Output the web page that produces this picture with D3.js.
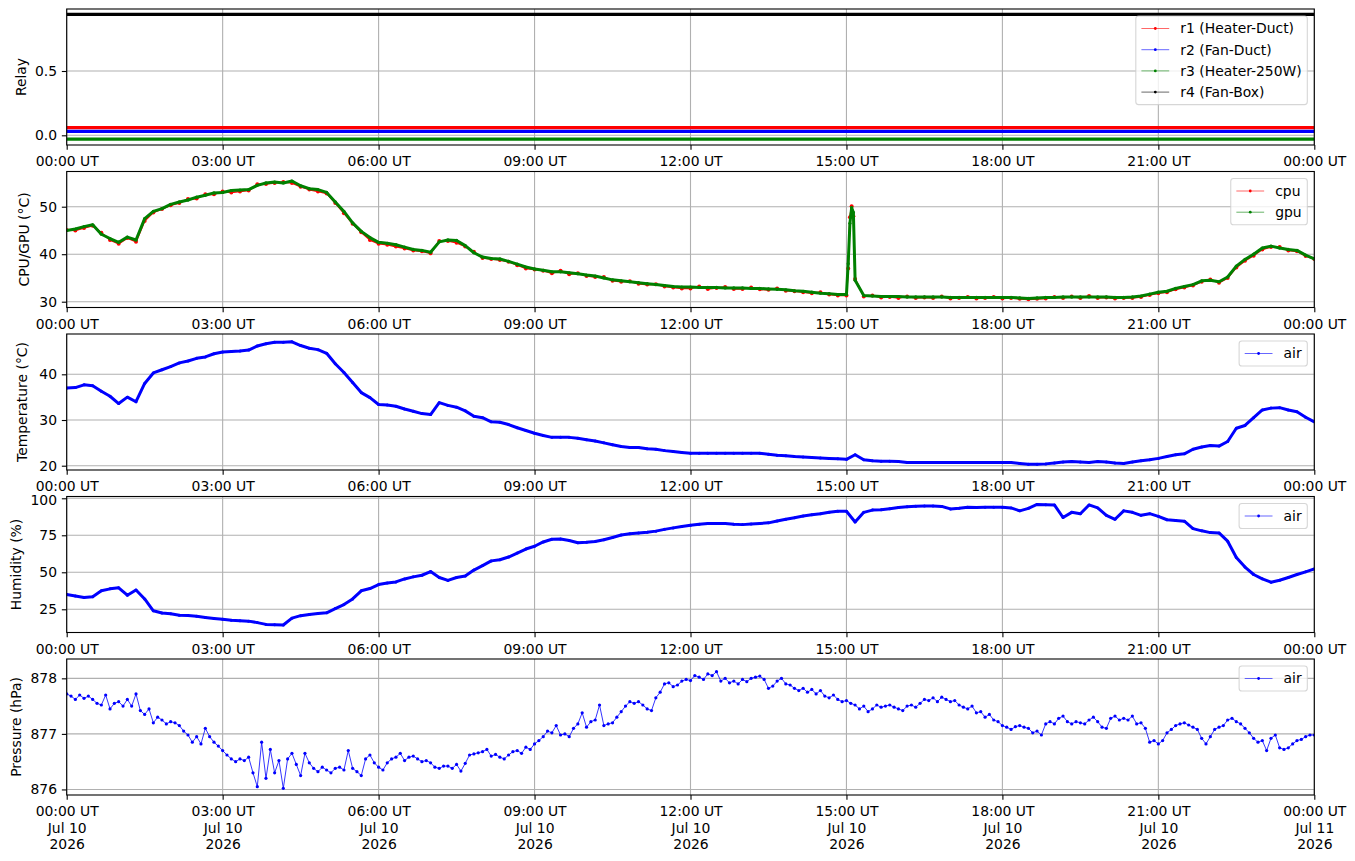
<!DOCTYPE html>
<html lang="en">
<head>
<meta charset="UTF-8">
<title>Relay / CPU / air sensors, Jul 10 2026</title>
<script src="https://d3js.org/d3.v7.min.js"></script>
<style>
  body { margin: 0; background: #fff; }
  svg text { font-family: "DejaVu Sans", sans-serif; font-size: 13.9px; fill: #000; }
</style>
</head>
<body>
<div id="chart"></div>
<script>
// ---- data ----
const relayNames = ["r1 (Heater-Duct)", "r2 (Fan-Duct)", "r3 (Heater-250W)", "r4 (Fan-Box)"];
const relayLevels = [0.06, 0.03, -0.03, 0.94];
const relayColors = ["red", "blue", "green", "black"];

// 10-minute samples, 00:00 .. 24:00
const cpuTemp = [
  45.1, 45.0, 45.5, 46.0, 44.5, 43.0, 42.2, 43.4, 42.6, 47.0, 48.8, 49.5,
  50.3, 50.8, 51.6, 51.7, 52.6, 52.6, 53.2, 53.0, 53.2, 53.4, 54.7, 54.8,
  55.0, 55.2, 55.0, 54.2, 53.6, 53.2, 52.8, 50.8, 48.6, 46.4, 44.6, 43.0,
  42.2, 42.0, 41.6, 41.2, 40.8, 40.6, 40.2, 42.8, 42.8, 42.4, 41.6, 40.5,
  39.2, 39.0, 38.8, 38.4, 37.7, 37.0, 36.8, 36.5, 36.0, 36.5, 35.8, 36.0,
  35.4, 35.2, 35.2, 34.4, 34.2, 34.3, 33.8, 33.6, 33.7, 33.2, 33.0, 32.8,
  32.8, 33.2, 32.7, 32.9, 33.1, 32.7, 32.7, 33.0, 32.6, 32.5, 32.8, 32.3,
  32.2, 32.0, 31.8, 32.0, 31.5, 31.3, 31.3, 34.8, 31.1, 31.3, 30.9, 31.0,
  30.8, 31.1, 30.8, 30.9, 30.8, 31.1, 30.7, 30.8, 31.0, 30.7, 30.8, 31.0,
  30.7, 30.8, 30.6, 30.5, 30.6, 30.7, 31.0, 30.8, 31.1, 30.8, 31.2, 30.8,
  30.9, 30.7, 30.8, 30.8, 31.0, 31.4, 31.8, 32.0, 32.6, 33.0, 33.4, 34.2,
  34.7, 34.0, 35.0, 37.2, 38.6, 39.7, 41.0, 41.5, 41.5, 40.8, 40.6, 39.6,
  39.0
];
const gpuTemp = [
  45.0, 45.3, 45.8, 46.2, 44.2, 43.3, 42.5, 43.6, 43.0, 47.5, 49.0, 49.6,
  50.5, 51.0, 51.4, 52.0, 52.4, 52.9, 53.0, 53.4, 53.5, 53.6, 54.5, 55.0,
  55.2, 55.0, 55.4, 54.4, 53.8, 53.6, 53.0, 51.0, 49.0, 46.6, 44.8, 43.5,
  42.5, 42.3, 42.0, 41.5, 41.0, 40.8, 40.4, 42.6, 43.0, 42.9, 41.8, 40.3,
  39.4, 39.1, 39.0, 38.5, 37.9, 37.3, 36.9, 36.6, 36.3, 36.3, 36.1, 35.9,
  35.6, 35.4, 35.0, 34.6, 34.4, 34.2, 34.0, 33.8, 33.6, 33.4, 33.2, 33.1,
  33.1, 33.0, 33.0, 33.0, 32.9, 32.9, 32.9, 32.8, 32.8, 32.7, 32.6, 32.5,
  32.3, 32.2, 32.0, 31.8, 31.7, 31.5, 31.5, 34.5, 31.3, 31.2, 31.1, 31.1,
  31.1, 31.0, 31.0, 31.0, 31.0, 31.0, 30.9, 30.9, 30.9, 30.9, 30.9, 30.9,
  30.9, 30.9, 30.8, 30.7, 30.8, 30.9, 30.9, 31.0, 31.0, 31.0, 31.0, 31.0,
  31.0, 30.9, 30.9, 31.0, 31.2, 31.6, 32.0, 32.2, 32.8, 33.2, 33.6, 34.4,
  34.5, 34.2, 35.2, 37.5, 38.9, 40.0, 41.3, 41.7, 41.3, 41.0, 40.8, 39.8,
  39.0
];
// extra samples through the short spike after 15:00 (minutes after midnight)
const spikeMinutes = [902, 904, 906, 908];
const cpuSpike = [37.0, 47.8, 50.1, 48.0];
const gpuSpike = [38.0, 46.5, 49.8, 48.8];

const airTemp = [
  37.0, 37.1, 37.7, 37.5, 36.3, 35.2, 33.6, 35.0, 34.0, 38.0, 40.3, 41.0,
  41.7, 42.5, 42.9, 43.5, 43.8, 44.5, 44.9, 45.0, 45.1, 45.3, 46.2, 46.7,
  47.0, 47.0, 47.1, 46.3, 45.7, 45.4, 44.6, 42.3, 40.4, 38.2, 36.0, 34.9,
  33.4, 33.3, 33.0, 32.4, 31.9, 31.4, 31.2, 33.8, 33.2, 32.8, 32.0, 30.8,
  30.5, 29.6, 29.5, 29.0, 28.3, 27.7, 27.1, 26.6, 26.2, 26.2, 26.2, 26.0,
  25.7, 25.4, 25.0, 24.6, 24.2, 24.0, 24.0, 23.7, 23.6, 23.3, 23.1, 22.9,
  22.7, 22.7, 22.7, 22.7, 22.7, 22.7, 22.7, 22.7, 22.7, 22.5, 22.3, 22.2,
  22.0, 21.9, 21.8, 21.7, 21.6, 21.5, 21.4, 22.4, 21.3, 21.1, 21.0, 21.0,
  20.9, 20.7, 20.7, 20.7, 20.7, 20.7, 20.7, 20.7, 20.7, 20.7, 20.7, 20.7,
  20.7, 20.7, 20.5, 20.3, 20.3, 20.4, 20.6, 20.8, 20.9, 20.8, 20.7, 20.9,
  20.8, 20.6, 20.5, 20.8, 21.1, 21.3, 21.6, 22.0, 22.4, 22.6, 23.6, 24.1,
  24.4, 24.3, 25.3, 28.2, 28.8, 30.5, 32.2, 32.6, 32.7, 32.2, 31.8, 30.6,
  29.6
];
const airHumidity = [
  35.0, 34.0, 33.0, 33.5, 37.5, 38.8, 39.5, 34.5, 38.0, 32.0, 24.0, 22.5,
  22.0, 21.0, 20.8, 20.3, 19.5, 18.8, 18.2, 17.6, 17.3, 17.0, 16.0, 14.8,
  14.6, 14.4, 19.0, 20.7, 21.5, 22.1, 22.6, 25.5, 28.2, 32.0, 37.5, 39.0,
  41.7, 42.8, 43.5, 45.5, 46.9, 48.0, 50.5, 46.5, 44.5, 46.5, 47.5, 51.5,
  54.5, 57.7, 58.5, 60.3, 63.0, 65.7, 67.6, 70.5, 72.3, 72.5, 71.5, 70.0,
  70.3, 70.8, 72.0, 73.5, 75.2, 76.0, 76.5, 77.0, 77.8, 79.0, 80.0, 81.0,
  81.8, 82.4, 82.9, 83.0, 83.0, 82.5, 82.2, 82.6, 83.0, 83.4, 84.6, 85.8,
  86.8, 88.0, 88.8, 89.6, 90.6, 91.2, 91.2, 84.0, 90.5, 92.0, 92.3, 93.0,
  93.8, 94.3, 94.6, 94.7, 94.8, 94.5, 92.8, 93.3, 94.0, 93.7, 94.0, 94.0,
  94.0, 93.5, 91.5, 93.2, 95.8, 95.7, 95.5, 87.0, 90.5, 89.5, 95.5, 93.5,
  88.5, 85.8, 91.5, 90.5, 88.5, 89.6, 87.8, 85.5, 85.0, 84.5, 79.5, 78.0,
  76.8, 76.6, 71.0, 60.0, 53.5, 48.5, 45.6, 43.3, 44.6, 46.5, 48.5, 50.3,
  52.3
];
// 5-minute samples, 00:00 .. 24:00
const airPressure = [
  877.72, 877.68, 877.62, 877.70, 877.64, 877.68, 877.62, 877.55, 877.52, 877.70, 877.45, 877.55,
  877.58, 877.50, 877.62, 877.50, 877.72, 877.42, 877.35, 877.45, 877.20, 877.30, 877.25, 877.18,
  877.22, 877.20, 877.15, 877.05, 876.98, 876.85, 876.95, 876.82, 877.10, 876.95, 876.85, 876.78,
  876.70, 876.62, 876.55, 876.50, 876.55, 876.52, 876.58, 876.30, 876.05, 876.85, 876.20, 876.72,
  876.30, 876.52, 876.02, 876.55, 876.65, 876.45, 876.25, 876.65, 876.48, 876.38, 876.32, 876.40,
  876.35, 876.30, 876.38, 876.40, 876.35, 876.70, 876.38, 876.32, 876.25, 876.55, 876.62, 876.48,
  876.40, 876.35, 876.48, 876.55, 876.58, 876.65, 876.52, 876.58, 876.60, 876.55, 876.50, 876.52,
  876.48, 876.40, 876.38, 876.42, 876.42, 876.38, 876.45, 876.33, 876.47, 876.62, 876.64, 876.66,
  876.68, 876.72, 876.60, 876.63, 876.58, 876.55, 876.62, 876.68, 876.70, 876.65, 876.76, 876.72,
  876.82, 876.88, 876.95, 877.05, 877.02, 877.15, 876.98, 877.00, 876.95, 877.10, 877.18, 877.38,
  877.12, 877.22, 877.25, 877.52, 877.15, 877.18, 877.20, 877.30, 877.40, 877.50, 877.58, 877.55,
  877.58, 877.52, 877.45, 877.42, 877.65, 877.75, 877.90, 877.92, 877.85, 877.88, 877.95, 877.98,
  877.96, 878.05, 878.02, 877.98, 878.08, 878.05, 878.12, 877.95, 878.00, 877.92, 877.95, 877.90,
  877.98, 877.94, 878.00, 878.02, 878.04, 877.98, 877.82, 877.86, 877.95, 878.00, 877.90, 877.88,
  877.82, 877.78, 877.82, 877.75, 877.80, 877.72, 877.78, 877.68, 877.65, 877.70, 877.62, 877.58,
  877.60, 877.55, 877.52, 877.45, 877.50, 877.40, 877.45, 877.52, 877.48, 877.50, 877.52, 877.48,
  877.45, 877.42, 877.50, 877.52, 877.48, 877.55, 877.62, 877.60, 877.65, 877.58, 877.66, 877.62,
  877.58, 877.60, 877.52, 877.48, 877.45, 877.50, 877.38, 877.40, 877.30, 877.35, 877.25, 877.22,
  877.15, 877.12, 877.08, 877.13, 877.15, 877.12, 877.10, 877.02, 877.05, 876.98, 877.18, 877.22,
  877.18, 877.28, 877.32, 877.22, 877.18, 877.22, 877.20, 877.18, 877.25, 877.30, 877.22, 877.12,
  877.10, 877.28, 877.32, 877.25, 877.28, 877.25, 877.32, 877.18, 877.20, 877.10, 876.85, 876.88,
  876.82, 876.88, 877.02, 877.08, 877.15, 877.18, 877.20, 877.16, 877.12, 877.08, 876.92, 876.82,
  876.95, 877.08, 877.12, 877.15, 877.25, 877.28, 877.22, 877.18, 877.10, 877.02, 876.92, 876.85,
  876.88, 876.70, 876.92, 876.98, 876.75, 876.72, 876.75, 876.82, 876.88, 876.90, 876.95, 876.98,
  876.98
];

// ---- layout ----
const W = 1355, H = 861;
const left = 66.7, right = 1314.3;
const firstTop = 9, panelH = 136, panelStep = 162.5;
const tick = 4.86;

const t0 = Date.UTC(2026, 6, 10);
const minute = 60000;
const at = m => new Date(t0 + m * minute);
const x = d3.scaleUtc().domain([at(0), at(1440)]).range([left, right]);

const tenMin = airTemp.map((_, i) => at(i * 10));
const fiveMin = airPressure.map((_, i) => at(i * 5));
const zip = (ts, vs) => ts.map((t, i) => [t, vs[i]]);
const withSpike = (vals, spike) =>
  zip(tenMin, vals).concat(zip(spikeMinutes.map(at), spike)).sort((a, b) => a[0] - b[0]);

const panels = [
  { ylabel: "Relay", labelX: 21.5, ydomain: [-0.0754, 0.982], yticks: [0, 0.5], yfmt: d3.format(".1f"),
    series: relayNames.map((n, i) => ({ name: n, color: relayColors[i], width: 3.2, r: 0,
      points: [[at(0), relayLevels[i]], [at(1440), relayLevels[i]]] })) },
  { ylabel: "CPU/GPU (°C)", labelX: 24, ydomain: [28.78, 57.41], yticks: [30, 40, 50], yfmt: d3.format("d"),
    series: [
      { name: "cpu", color: "red", width: 1.6, r: 2, points: withSpike(cpuTemp, cpuSpike) },
      { name: "gpu", color: "green", width: 3, r: 1.6, points: withSpike(gpuTemp, gpuSpike) }
    ] },
  { ylabel: "Temperature (°C)", labelX: 22.3, ydomain: [19.06, 48.82], yticks: [20, 30, 40], yfmt: d3.format("d"),
    series: [{ name: "air", color: "blue", width: 3, r: 1.5, points: zip(tenMin, airTemp) }] },
  { ylabel: "Humidity (%)", labelX: 16, ydomain: [9.32, 101.2], yticks: [25, 50, 75, 100], yfmt: d3.format("d"),
    series: [{ name: "air", color: "blue", width: 3, r: 1.5, points: zip(tenMin, airHumidity) }] },
  { ylabel: "Pressure (hPa)", labelX: 16, ydomain: [875.90, 878.348], yticks: [876, 877, 878], yfmt: d3.format("d"),
    series: [{ name: "air", color: "blue", width: 0.8, r: 1.6, points: zip(fiveMin, airPressure) }] }
];

const svg = d3.select("#chart").append("svg")
  .attr("width", W).attr("height", H)
  .attr("viewBox", `0 0 ${W} ${H}`);

const xTicks = d3.utcHour.every(3).range(at(0), at(1441));

panels.forEach((p, pi) => {
  const top = firstTop + pi * panelStep, bottom = top + panelH;
  const y = d3.scaleLinear().domain(p.ydomain).range([bottom, top]);
  const g = svg.append("g");

  // grid
  g.selectAll(".vgrid").data(xTicks).enter().append("line")
    .attr("x1", d => x(d)).attr("x2", d => x(d)).attr("y1", top).attr("y2", bottom)
    .attr("stroke", "#b0b0b0").attr("stroke-width", 1.1);
  g.selectAll(".hgrid").data(p.yticks).enter().append("line")
    .attr("x1", left).attr("x2", right).attr("y1", d => y(d)).attr("y2", d => y(d))
    .attr("stroke", "#b0b0b0").attr("stroke-width", 1.1);

  // data, clipped to the axes box
  const clipId = "clip" + pi;
  svg.append("clipPath").attr("id", clipId).append("rect")
    .attr("x", left).attr("y", top).attr("width", right - left).attr("height", panelH);
  const dg = g.append("g").attr("clip-path", `url(#${clipId})`);
  const line = d3.line().x(d => x(d[0])).y(d => y(d[1]));
  p.series.forEach(s => {
    dg.append("path").datum(s.points)
      .attr("d", line).attr("fill", "none")
      .attr("stroke", s.color).attr("stroke-width", s.width).attr("stroke-linejoin", "round");
    if (s.r > 0) {
      dg.selectAll(null).data(s.points).enter().append("circle")
        .attr("cx", d => x(d[0])).attr("cy", d => y(d[1])).attr("r", s.r)
        .attr("fill", s.color);
    }
  });

  // frame
  g.append("rect").attr("x", left).attr("y", top).attr("width", right - left).attr("height", panelH)
    .attr("fill", "none").attr("stroke", "#000").attr("stroke-width", 1.1);

  // x axis
  const xa = g.append("g").attr("transform", `translate(0,${bottom})`)
    .call(d3.axisBottom(x).tickValues(xTicks).tickSizeInner(tick).tickSizeOuter(0).tickPadding(tick)
      .tickFormat(d3.utcFormat("%H:%M UT")));
  xa.select(".domain").remove();
  xa.selectAll(".tick line").attr("stroke-width", 1.1);
  xa.selectAll(".tick text").attr("y", 21).attr("dy", null);
  if (pi === panels.length - 1) {
    xa.selectAll(".tick text").each(function (d) {
      const t = d3.select(this).text("");
      [d3.utcFormat("%H:%M UT")(d), d3.utcFormat("%b %d")(d), d3.utcFormat("%Y")(d)].forEach((s, k) => {
        t.append("tspan").attr("x", 0).attr("y", 21.3 + k * 16.2).text(s);
      });
    });
  }

  // y axis
  const ya = g.append("g").attr("transform", `translate(${left},0)`)
    .call(d3.axisLeft(y).tickValues(p.yticks).tickSizeInner(tick).tickSizeOuter(0).tickPadding(tick)
      .tickFormat(p.yfmt));
  ya.select(".domain").remove();
  ya.selectAll(".tick line").attr("stroke-width", 1.1);
  // a label sitting right at the top edge is nudged down a hair, clear of the axis above
  ya.selectAll(".tick text").attr("dy", d => (y(d) - top < 3 ? "0.45em" : "0.32em"));

  g.append("text")
    .attr("transform", `translate(${p.labelX},${(top + bottom) / 2}) rotate(-90)`)
    .attr("text-anchor", "middle").attr("dy", "0.35em")
    .text(p.ylabel);

  // legend, upper right
  const lg = g.append("g");
  const rowH = 21.2, boxTop = top + 7, boxH = 25 + (p.series.length - 1) * rowH;
  const box = lg.append("rect").attr("y", boxTop).attr("height", boxH)
    .attr("rx", 2.8).attr("fill", "#fff").attr("fill-opacity", 0.8)
    .attr("stroke", "#cccccc").attr("stroke-opacity", 0.8).attr("stroke-width", 1.1);
  const texts = p.series.map((s, i) => lg.append("text")
    .attr("y", boxTop + 12.5 + i * rowH).attr("dy", "0.35em").text(s.name));
  const tw = d3.max(texts, t => t.node().getComputedTextLength());
  const boxW = 44.5 + tw + 5.6, boxLeft = right - 7 - boxW;
  box.attr("x", boxLeft).attr("width", boxW);
  p.series.forEach((s, i) => {
    const cy = boxTop + 12.5 + i * rowH;
    texts[i].attr("x", boxLeft + 44.5);
    lg.append("line").attr("x1", boxLeft + 5.6).attr("x2", boxLeft + 33.4)
      .attr("y1", cy).attr("y2", cy).attr("stroke", s.color).attr("stroke-width", 0.8)
      .attr("stroke-opacity", 0.75);
    lg.append("circle").attr("cx", boxLeft + 19.5).attr("cy", cy).attr("r", 1.4).attr("fill", s.color);
  });
});
</script>
</body>
</html>
